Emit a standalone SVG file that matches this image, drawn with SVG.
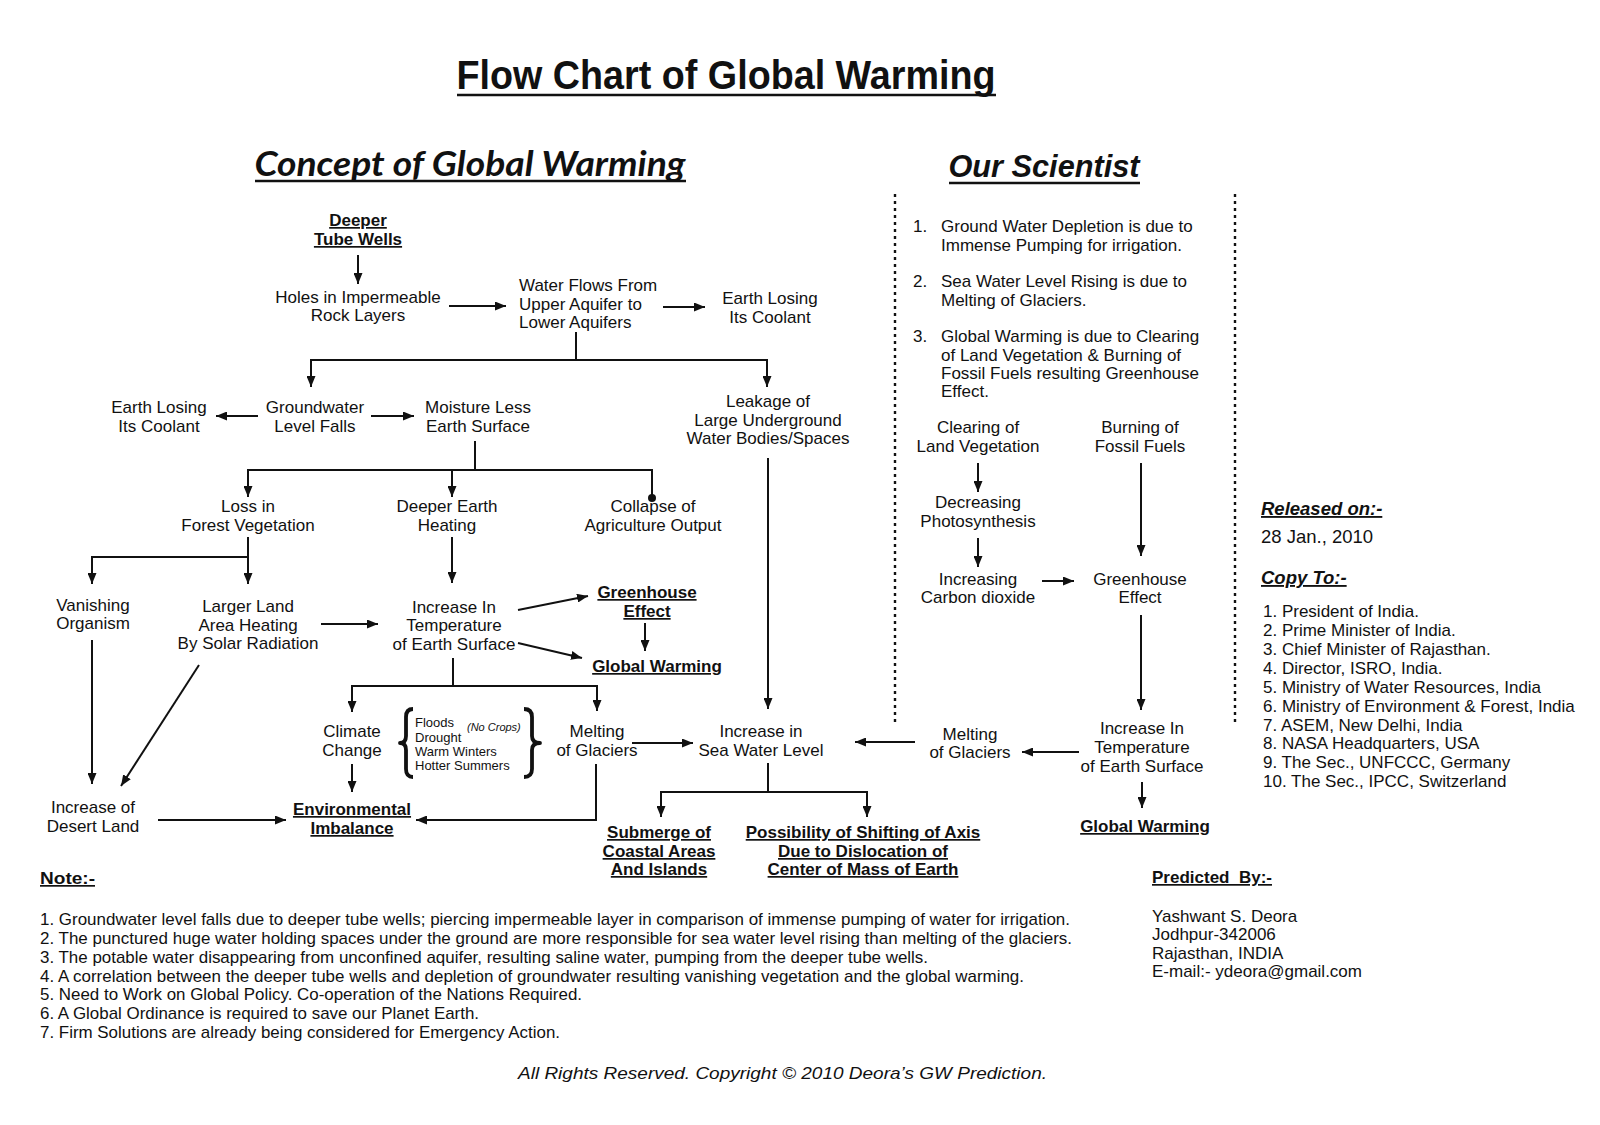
<svg xmlns="http://www.w3.org/2000/svg" width="1600" height="1125" viewBox="0 0 1600 1125">
<defs>
<style>
text{font-family:"Liberation Sans",Arial,sans-serif;fill:#111;}
.n{font-size:17px;text-anchor:middle;}
.l{font-size:17px;}
.bu{font-size:17px;font-weight:bold;text-anchor:middle;text-decoration:underline;}
.sm{font-size:13px;}
.it{font-size:11px;font-style:italic;}
.note{font-family:"Liberation Sans Narrow","Liberation Sans",sans-serif;font-size:17px;}
.hd{font-size:18.5px;font-weight:bold;font-style:italic;text-decoration:underline;}
.c{fill:none;stroke:#111;stroke-width:2;}
.ca{fill:none;stroke:#111;stroke-width:2;marker-end:url(#ah);}
.dot{fill:none;stroke:#111;stroke-width:2.4;stroke-dasharray:3 4;}
.ul{stroke:#111;stroke-width:2.5;}
.br{fill:none;stroke:#111;stroke-width:3.8;stroke-linejoin:round;}
</style>
<marker id="ah" markerWidth="11" markerHeight="9" refX="11" refY="4.5" orient="auto" markerUnits="userSpaceOnUse">
<path d="M0,0 L11,4.5 L0,9 z" fill="#111"/>
</marker>
</defs>
<rect width="1600" height="1125" fill="#fff"/>

<g id="titles">
<text x="726" y="89" font-size="40" font-weight="bold" text-anchor="middle" textLength="539" lengthAdjust="spacingAndGlyphs" style="font-family:'Liberation Sans Narrow','Liberation Sans',sans-serif">Flow Chart of Global Warming</text>
<line class="ul" x1="457" y1="95" x2="996" y2="95"/>
<text x="470" y="176" font-size="34" font-weight="bold" font-style="italic" text-anchor="middle" textLength="431" lengthAdjust="spacingAndGlyphs" style="font-family:Lato,'Open Sans',sans-serif">Concept of Global Warming</text>
<line class="ul" x1="255" y1="181" x2="686" y2="181"/>
<text x="1044" y="177" font-size="32" font-weight="bold" font-style="italic" text-anchor="middle" textLength="191" lengthAdjust="spacingAndGlyphs" style="font-family:'Liberation Sans Narrow','Liberation Sans',sans-serif">Our Scientist</text>
<line class="ul" x1="949" y1="183" x2="1140" y2="183"/>
</g>

<g id="dividers">
<line class="dot" x1="895" y1="194" x2="895" y2="722"/>
<line class="dot" x1="1235" y1="194" x2="1235" y2="722"/>
</g>

<g id="connectors">
<line class="ca" x1="358" y1="255" x2="358" y2="284"/>
<line class="ca" x1="449" y1="306" x2="506" y2="306"/>
<line class="ca" x1="663" y1="307" x2="705" y2="307"/>
<polyline class="c" points="576,332 576,360"/>
<polyline class="c" points="311,360 767,360"/>
<line class="ca" x1="311" y1="359" x2="311" y2="387"/>
<line class="ca" x1="767" y1="359" x2="767" y2="387"/>
<line class="ca" x1="258" y1="416" x2="216" y2="416"/>
<line class="ca" x1="371" y1="416" x2="414" y2="416"/>
<polyline class="c" points="475,441 475,470"/>
<polyline class="c" points="248,470 652,470 652,497"/>
<circle cx="652" cy="498" r="4" fill="#111"/>
<line class="ca" x1="248" y1="469" x2="248" y2="497"/>
<line class="ca" x1="452" y1="469" x2="452" y2="497"/>
<polyline class="c" points="248,537 248,557 92,557"/>
<line class="ca" x1="92" y1="556" x2="92" y2="584"/>
<line class="ca" x1="248" y1="556" x2="248" y2="584"/>
<line class="ca" x1="452" y1="537" x2="452" y2="583"/>
<line class="ca" x1="321" y1="624" x2="378" y2="624"/>
<line class="ca" x1="518" y1="610" x2="588" y2="596"/>
<line class="ca" x1="518" y1="643" x2="582" y2="658"/>
<line class="ca" x1="645" y1="623" x2="645" y2="651"/>
<polyline class="c" points="453,658 453,686"/>
<polyline class="c" points="352,686 597,686"/>
<line class="ca" x1="352" y1="685" x2="352" y2="712"/>
<line class="ca" x1="597" y1="685" x2="597" y2="711"/>
<line class="ca" x1="352" y1="764" x2="352" y2="792"/>
<polyline class="ca" points="596,764 596,820 416,820"/>
<line class="ca" x1="158" y1="820" x2="286" y2="820"/>
<line class="ca" x1="92" y1="640" x2="92" y2="784"/>
<line class="ca" x1="199" y1="665" x2="121" y2="786"/>
<line class="ca" x1="632" y1="743" x2="693" y2="743"/>
<line class="ca" x1="768" y1="458" x2="768" y2="709"/>
<polyline class="c" points="768,763 768,792"/>
<polyline class="c" points="661,792 867,792"/>
<line class="ca" x1="661" y1="791" x2="661" y2="817"/>
<line class="ca" x1="867" y1="791" x2="867" y2="817"/>
<line class="ca" x1="915" y1="742" x2="855" y2="742"/>
<line class="ca" x1="978" y1="463" x2="978" y2="492"/>
<line class="ca" x1="978" y1="538" x2="978" y2="567"/>
<line class="ca" x1="1042" y1="581" x2="1074" y2="581"/>
<line class="ca" x1="1141" y1="463" x2="1141" y2="556"/>
<line class="ca" x1="1141" y1="615" x2="1141" y2="710"/>
<line class="ca" x1="1079" y1="752" x2="1022" y2="752"/>
<line class="ca" x1="1142" y1="782" x2="1142" y2="808"/>
</g>

<g id="deeper-tube-wells"><text class="bu" x="358" y="226">Deeper</text><text class="bu" x="358" y="245">Tube Wells</text></g>
<g id="holes"><text class="n" x="358" y="303">Holes in Impermeable</text><text class="n" x="358" y="321">Rock Layers</text></g>
<g id="water-flows"><text class="l" x="519" y="291">Water Flows From</text><text class="l" x="519" y="310">Upper Aquifer to</text><text class="l" x="519" y="328">Lower Aquifers</text></g>
<g id="earth-losing-1"><text class="n" x="770" y="304">Earth Losing</text><text class="n" x="770" y="323">Its Coolant</text></g>
<g id="earth-losing-2"><text class="n" x="159" y="413">Earth Losing</text><text class="n" x="159" y="432">Its Coolant</text></g>
<g id="groundwater"><text class="n" x="315" y="413">Groundwater</text><text class="n" x="315" y="432">Level Falls</text></g>
<g id="moisture"><text class="n" x="478" y="413">Moisture Less</text><text class="n" x="478" y="432">Earth Surface</text></g>
<g id="leakage"><text class="n" x="768" y="407">Leakage of</text><text class="n" x="768" y="426">Large Underground</text><text class="n" x="768" y="444">Water Bodies/Spaces</text></g>
<g id="loss-forest"><text class="n" x="248" y="512">Loss in</text><text class="n" x="248" y="531">Forest Vegetation</text></g>
<g id="deeper-earth"><text class="n" x="447" y="512">Deeper Earth</text><text class="n" x="447" y="531">Heating</text></g>
<g id="collapse"><text class="n" x="653" y="512">Collapse of</text><text class="n" x="653" y="531">Agriculture Output</text></g>
<g id="vanishing"><text class="n" x="93" y="611">Vanishing</text><text class="n" x="93" y="629">Organism</text></g>
<g id="larger-land"><text class="n" x="248" y="612">Larger Land</text><text class="n" x="248" y="631">Area Heating</text><text class="n" x="248" y="649">By Solar Radiation</text></g>
<g id="increase-temp"><text class="n" x="454" y="613">Increase In</text><text class="n" x="454" y="631">Temperature</text><text class="n" x="454" y="650">of Earth Surface</text></g>
<g id="greenhouse"><text class="bu" x="647" y="598">Greenhouse</text><text class="bu" x="647" y="617">Effect</text></g>
<g id="global-warming-1"><text class="bu" x="657" y="672">Global Warming</text></g>
<g id="climate"><text class="n" x="352" y="737">Climate</text><text class="n" x="352" y="756">Change</text></g>
<g id="climate-effects">
<path class="br" d="M413,709 Q406,709 406,717 L406,736 Q406,743 400,743 Q406,743 406,750 L406,769 Q406,777 413,777"/>
<path class="br" d="M524,709 Q532,709 532,717 L532,736 Q532,743 540,743 Q532,743 532,750 L532,769 Q532,777 524,777"/>
<text class="sm" x="415" y="727">Floods</text>
<text class="sm" x="415" y="742">Drought</text>
<text class="sm" x="415" y="756">Warm Winters</text>
<text class="sm" x="415" y="770">Hotter Summers</text>
<text class="it" x="467" y="731">(No Crops)</text>
</g>
<g id="melting-1"><text class="n" x="597" y="737">Melting</text><text class="n" x="597" y="756">of Glaciers</text></g>
<g id="sea-level"><text class="n" x="761" y="737">Increase in</text><text class="n" x="761" y="756">Sea Water Level</text></g>
<g id="env-imbalance"><text class="bu" x="352" y="815">Environmental</text><text class="bu" x="352" y="834">Imbalance</text></g>
<g id="desert"><text class="n" x="93" y="813">Increase of</text><text class="n" x="93" y="832">Desert Land</text></g>
<g id="submerge"><text class="bu" x="659" y="838">Submerge of</text><text class="bu" x="659" y="857">Coastal Areas</text><text class="bu" x="659" y="875">And Islands</text></g>
<g id="shifting"><text class="bu" x="863" y="838">Possibility of Shifting of Axis</text><text class="bu" x="863" y="857">Due to Dislocation of</text><text class="bu" x="863" y="875">Center of Mass of Earth</text></g>

<g id="scientist-notes">
<text class="l" x="913" y="232">1.</text><text class="l" x="941" y="232">Ground Water Depletion is due to</text>
<text class="l" x="941" y="251">Immense Pumping for irrigation.</text>
<text class="l" x="913" y="287">2.</text><text class="l" x="941" y="287">Sea Water Level Rising is due to</text>
<text class="l" x="941" y="306">Melting of Glaciers.</text>
<text class="l" x="913" y="342">3.</text><text class="l" x="941" y="342">Global Warming is due to Clearing</text>
<text class="l" x="941" y="361">of Land Vegetation &amp; Burning of</text>
<text class="l" x="941" y="379">Fossil Fuels resulting Greenhouse</text>
<text class="l" x="941" y="397">Effect.</text>
</g>
<g id="clearing"><text class="n" x="978" y="433">Clearing of</text><text class="n" x="978" y="452">Land Vegetation</text></g>
<g id="burning"><text class="n" x="1140" y="433">Burning of</text><text class="n" x="1140" y="452">Fossil Fuels</text></g>
<g id="decreasing"><text class="n" x="978" y="508">Decreasing</text><text class="n" x="978" y="527">Photosynthesis</text></g>
<g id="increasing-co2"><text class="n" x="978" y="585">Increasing</text><text class="n" x="978" y="603">Carbon dioxide</text></g>
<g id="greenhouse-2"><text class="n" x="1140" y="585">Greenhouse</text><text class="n" x="1140" y="603">Effect</text></g>
<g id="increase-temp-2"><text class="n" x="1142" y="734">Increase In</text><text class="n" x="1142" y="753">Temperature</text><text class="n" x="1142" y="772">of Earth Surface</text></g>
<g id="melting-2"><text class="n" x="970" y="740">Melting</text><text class="n" x="970" y="758">of Glaciers</text></g>
<g id="global-warming-2"><text class="bu" x="1145" y="832">Global Warming</text></g>

<g id="release">
<text class="hd" x="1261" y="515">Released on:-</text>
<text x="1261" y="543" font-size="18.5">28 Jan., 2010</text>
<text class="hd" x="1261" y="584">Copy To:-</text>
<text class="l" x="1263" y="617">1. President of India.</text>
<text class="l" x="1263" y="636">2. Prime Minister of India.</text>
<text class="l" x="1263" y="655">3. Chief Minister of Rajasthan.</text>
<text class="l" x="1263" y="674">4. Director, ISRO, India.</text>
<text class="l" x="1263" y="693">5. Ministry of Water Resources, India</text>
<text class="l" x="1263" y="712">6. Ministry of Environment &amp; Forest, India</text>
<text class="l" x="1263" y="731">7. ASEM, New Delhi, India</text>
<text class="l" x="1263" y="749">8. NASA Headquarters, USA</text>
<text class="l" x="1263" y="768">9. The Sec., UNFCCC, Germany</text>
<text class="l" x="1263" y="787">10. The Sec., IPCC, Switzerland</text>
</g>

<g id="predicted">
<text x="1152" y="883" font-size="17" font-weight="bold" text-decoration="underline" style="white-space:pre">Predicted  By:-</text>
<text class="l" x="1152" y="922">Yashwant S. Deora</text>
<text class="l" x="1152" y="940">Jodhpur-342006</text>
<text class="l" x="1152" y="959">Rajasthan, INDIA</text>
<text class="l" x="1152" y="977">E-mail:- ydeora@gmail.com</text>
</g>

<g id="notes">
<text class="note" x="40" y="884" font-weight="bold" text-decoration="underline" textLength="55" lengthAdjust="spacingAndGlyphs">Note:-</text>
<text class="note" x="40" y="925" textLength="1030" lengthAdjust="spacingAndGlyphs">1. Groundwater level falls due to deeper tube wells; piercing impermeable layer in comparison of immense pumping of water for irrigation.</text>
<text class="note" x="40" y="944" textLength="1032" lengthAdjust="spacingAndGlyphs">2. The punctured huge water holding spaces under the ground are more responsible for sea water level rising than melting of the glaciers.</text>
<text class="note" x="40" y="963" textLength="888" lengthAdjust="spacingAndGlyphs">3. The potable water disappearing from unconfined aquifer, resulting saline water, pumping from the deeper tube wells.</text>
<text class="note" x="40" y="982" textLength="984" lengthAdjust="spacingAndGlyphs">4. A correlation between the deeper tube wells and depletion of groundwater resulting vanishing vegetation and the global warming.</text>
<text class="note" x="40" y="1000" textLength="542" lengthAdjust="spacingAndGlyphs">5. Need to Work on Global Policy. Co-operation of the Nations Required.</text>
<text class="note" x="40" y="1019" textLength="439" lengthAdjust="spacingAndGlyphs">6. A Global Ordinance is required to save our Planet Earth.</text>
<text class="note" x="40" y="1038" textLength="520" lengthAdjust="spacingAndGlyphs">7. Firm Solutions are already being considered for Emergency Action.</text>
<text class="note" x="518" y="1079" font-style="italic" textLength="529" lengthAdjust="spacingAndGlyphs">All Rights Reserved. Copyright © 2010 Deora’s GW Prediction.</text>
</g>
</svg>
